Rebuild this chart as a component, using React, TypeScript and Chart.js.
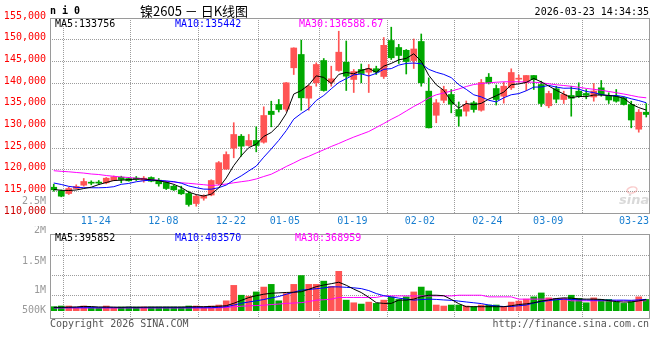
import { useEffect, useRef } from "react";
import { Chart, registerables } from "chart.js";

Chart.register(...registerables);

// ---------------- data ----------------
const dates = [
  "11-20","11-21","11-24","11-25","11-26","11-27","11-28","12-01","12-02","12-03",
  "12-04","12-05","12-08","12-09","12-10","12-11","12-12","12-15","12-16","12-17",
  "12-18","12-19","12-22","12-23","12-24","12-25","12-26","12-29","12-30","12-31",
  "01-05","01-06","01-07","01-08","01-09","01-12","01-13","01-14","01-15","01-16",
  "01-19","01-20","01-21","01-22","01-23","01-26","01-27","01-28","01-29","01-30",
  "02-02","02-03","02-04","02-05","02-06","02-09","02-10","02-11","02-12","02-13",
  "02-24","02-25","02-26","02-27","03-02","03-03","03-04","03-05","03-06","03-09",
  "03-10","03-11","03-12","03-13","03-16","03-17","03-18","03-19","03-20","03-23",
];

const opens = [
  115950,115120,114500,115650,116420,117040,117040,116970,117500,118260,
  117960,118080,117570,118190,117570,117040,116190,115350,114500,112190,
  113420,114150,116740,120150,124950,127720,125580,126730,126340,133490,
  135040,133950,143510,146580,136490,140050,145190,140190,142890,144800,
  140810,143120,142490,143300,141500,149810,148190,147550,145190,149580,
  138120,132550,136010,137350,133880,133490,135430,133720,141340,138730,
  136950,138890,140880,140120,141730,139650,134740,138660,136190,137120,
  138110,137580,136770,138890,136950,136890,136580,135040,129340,133260,
];
const highs = [
  116650,115310,115950,116510,117960,117430,117500,118190,118540,118490,
  118190,118420,118420,118350,117960,117270,116460,116190,115030,114200,
  114200,117660,121880,124120,130840,128120,128120,129890,134510,135800,
  136190,140120,148120,149880,139490,144660,145650,143880,151950,149690,
  143120,144380,144270,143880,150500,152880,148930,147730,150150,151310,
  141200,136190,139260,138500,135620,135850,135800,140810,142190,139540,
  140180,143280,141850,141730,141730,140420,138110,139260,138110,139260,
  140050,138500,139880,140580,137740,138500,136770,135800,133880,135270,
];
const lows = [
  115030,113740,114270,115580,116190,116510,116580,116740,117430,116970,
  117340,117500,117110,117200,116190,115420,115190,114270,111570,111570,
  112950,113970,116510,120040,122740,123110,125420,124120,126110,129890,
  133310,133490,141960,133720,133720,139260,138110,139260,142720,138270,
  137810,140050,137810,141960,141040,145420,144500,142080,143350,139260,
  129620,130820,135430,133120,130030,132380,133260,133490,139770,134920,
  135350,138500,140120,138270,138500,134580,134280,135430,135270,132340,
  136650,136350,135800,136950,135270,135570,134920,129660,128650,132150,
];
const closes = [
  115350,113880,115650,116120,117270,116880,116900,118030,118350,117730,
  117430,117730,118030,117340,116740,115650,115350,114430,111960,113880,
  113970,117500,121610,123500,128120,125420,126730,125580,132500,132730,
  133880,140050,148080,136580,139260,144270,138270,140970,147110,141570,
  142650,142190,143350,142540,148700,145820,146350,144960,147850,140050,
  129660,135430,138500,135110,132340,135040,133880,140120,140050,136190,
  139260,142420,141040,141730,140810,135270,137580,136260,137350,136470,
  136950,137160,138150,137350,136080,135800,135040,131460,133260,132730,
];

const ma5 = [
  115420,115240,115190,115310,115650,115960,116560,117040,117490,117580,
  117690,117850,117850,117650,117450,117100,116620,115900,114830,114250,
  113920,114350,115780,118090,120940,123230,125080,125870,127670,128590,
  130280,132950,137450,138260,139570,141650,141290,139870,141980,142440,
  142110,142900,143370,142460,143890,144520,145350,145670,146740,145010,
  141770,139590,138300,135750,134210,135280,134970,135300,136290,137060,
  137900,139610,139790,140130,141050,140250,139290,138330,137450,136590,
  136920,136840,137220,137220,137140,136910,136480,135150,134330,133756,
];
const ma10 = [
  116920,116580,116150,115920,115840,115820,115820,115880,116070,116620,
  116820,117210,117450,117570,117520,117390,117240,116880,116240,115850,
  115510,115490,115840,116460,117600,118570,119710,120830,122880,124770,
  126760,129010,131660,132970,134080,135970,137120,138660,140120,141000,
  141880,142100,141620,142220,143160,143320,144130,144520,144600,144450,
  143150,142470,141990,141240,139610,138530,137280,136800,136020,135630,
  136590,137290,137550,138210,139050,139080,139450,139060,138790,138820,
  138590,138060,137770,137340,137060,137120,136860,136360,135950,135442,
];
const ma30 = [
  119760,119620,119510,119350,119210,119000,118880,118650,118470,118310,
  118190,118010,117850,117680,117550,117340,117150,116970,116850,116690,
  116530,116350,116460,116690,116970,117220,117450,117850,118420,118950,
  119810,120730,121540,122420,123080,123850,124580,125350,126040,126800,
  127520,128160,128810,129730,130650,131620,132500,133540,134580,135500,
  136540,137280,137690,138150,138620,139190,139650,139880,140050,140180,
  140280,140280,140280,140230,140180,140050,139820,139590,139420,139240,
  139010,138750,138550,138320,138040,137760,137460,137120,136770,136588.67,
];

const volumes = [
  220000,237000,237000,205000,237000,205000,180000,237000,195000,212000,
  212000,212000,212000,212000,212000,212000,212000,212000,237000,237000,
  212000,237000,262000,367000,753000,507000,483000,589000,711000,778000,
  367000,549000,778000,999000,778000,778000,859000,729000,1105000,384000,
  318000,286000,335000,303000,384000,466000,402000,466000,589000,711000,
  613000,262000,237000,262000,262000,237000,220000,262000,262000,262000,
  220000,335000,360000,409000,466000,564000,441000,426000,426000,507000,
  426000,318000,441000,402000,402000,343000,303000,343000,466000,402000,
];
const volMa5 = [
  205000,205000,210000,215000,227000,224000,213000,213000,211000,206000,
  212000,207000,211000,211000,211000,211000,211000,211000,216000,221000,
  221000,226000,231000,245000,305000,377000,448000,495000,532000,557000,
  566000,576000,581000,593000,655000,721000,763000,795000,832000,756000,
  660000,574000,456000,321000,303000,303000,384000,384000,409000,470000,
  507000,507000,495000,402000,296000,220000,220000,220000,220000,220000,
  220000,244000,274000,291000,318000,360000,389000,424000,441000,434000,
  414000,409000,409000,402000,372000,348000,335000,340000,365000,395852,
];
const volMa10 = [
  195000,195000,195000,195000,195000,195000,195000,195000,195000,195000,
  195000,195000,195000,195000,195000,195000,195000,195000,195000,195000,
  195000,195000,205000,220000,259000,306000,338000,367000,400000,439000,
  475000,532000,581000,635000,650000,670000,689000,716000,716000,704000,
  692000,672000,623000,549000,495000,466000,434000,409000,384000,397000,
  409000,402000,389000,380000,360000,338000,318000,298000,262000,237000,
  225000,225000,244000,262000,311000,348000,372000,392000,409000,402000,
  394000,389000,384000,384000,384000,384000,384000,380000,390000,403570,
];
const volMa30 = [
  190000,190000,190000,190000,190000,190000,190000,190000,190000,190000,
  190000,190000,190000,190000,190000,190000,190000,190000,190000,190000,
  190000,190000,190000,200000,220000,232000,242000,249000,257000,274000,
  286000,303000,311000,321000,348000,384000,394000,409000,451000,451000,
  451000,451000,451000,451000,490000,490000,490000,490000,490000,490000,
  490000,490000,490000,490000,507000,507000,507000,507000,466000,466000,
  466000,466000,409000,409000,409000,409000,409000,409000,409000,367000,
  367000,367000,367000,367000,367000,367000,367000,367000,367000,368959,
];

const priceTicks = [110000,115000,120000,125000,130000,135000,140000,145000,150000,155000];
const dateTicks = ["11-24","12-08","12-22","01-05","01-19","02-02","02-24","03-09","03-23"];
const volTickValues = [500000, 1000000, 1500000, 2000000];
const volTickLabels = ["500K", "1M", "1.5M", "2M"];

// ---------------- style ----------------
const MONO = "'DejaVu Sans Mono', 'Liberation Mono', monospace";
const UP = "#ff5454";
const DOWN = "#00a800";
const FRAME = "#9a9a9a";
const GRID = "#9c9c9c";
const AXIS_RED = "#ff0000";
const DATE_BLUE = "#1a7fd0";

const gridIdx = dateTicks.map((d) => dates.indexOf(d));
const candleColors = closes.map((c, i) => (c >= opens[i] ? UP : DOWN));

function drawText(
  ctx: CanvasRenderingContext2D,
  text: string,
  x: number,
  y: number,
  color: string,
  font: string,
  align: CanvasTextAlign = "left"
) {
  ctx.save();
  ctx.font = font;
  ctx.fillStyle = color;
  ctx.textAlign = align;
  ctx.textBaseline = "middle";
  ctx.fillText(text, x, y);
  ctx.restore();
}

const xgScale = {
  type: "linear" as const,
  axis: "x" as const,
  position: "bottom" as const,
  min: 0,
  max: dates.length - 1,
  afterBuildTicks: (s: any) => {
    s.ticks = gridIdx.map((v) => ({ value: v }));
  },
  afterFit: (s: any) => {
    s.height = 0;
  },
  ticks: { display: false },
  grid: { color: GRID, lineWidth: 1, drawTicks: false },
  border: { display: false, dash: [1, 1] },
};

const mainDecor = {
  id: "mainDecor",
  afterDraw(chart: any) {
    const { ctx, chartArea: a } = chart;
    const xg = chart.scales.xg;
    ctx.save();
    ctx.strokeStyle = FRAME;
    ctx.lineWidth = 1;
    ctx.strokeRect(a.left + 0.5, a.top + 0.5, a.right - a.left - 1, a.bottom - a.top);
    ctx.restore();

    drawText(ctx, "n i 0", 50, 11, "#000", `bold 10px ${MONO}`);
    drawText(ctx, "镍2605 － 日K线图", 140, 11, "#000", "13px 'Noto Sans CJK SC'");
    drawText(ctx, "2026-03-23 14:34:35", 649, 12, "#000", `10px ${MONO}`, "right");

    drawText(ctx, `MA5:${ma5[ma5.length - 1]}`, 55, 24, "#000", `10px ${MONO}`);
    drawText(ctx, `MA10:${ma10[ma10.length - 1]}`, 175, 24, "#0000ff", `10px ${MONO}`);
    drawText(ctx, `MA30:${ma30[ma30.length - 1]}`, 299, 24, "#ff00ff", `10px ${MONO}`);

    drawText(ctx, "2.5M", 46, 201, "#999", `10px ${MONO}`, "right");

    dateTicks.forEach((lab, k) => {
      const x = xg.getPixelForValue(gridIdx[k]);
      const last = k === dateTicks.length - 1;
      drawText(ctx, lab, last ? a.right - 1 : x - 1, 221.5, DATE_BLUE, `10px ${MONO}`, last ? "right" : "center");
    });

    // faint sina watermark
    ctx.save();
    ctx.globalAlpha = 0.4;
    drawText(ctx, "sina", 619, 201, "#a0a0a0", `italic bold 13px 'DejaVu Sans'`);
    ctx.beginPath();
    ctx.ellipse(632, 190, 5, 3, -0.2, 0, Math.PI * 2);
    ctx.strokeStyle = "#f08080";
    ctx.lineWidth = 1.5;
    ctx.stroke();
    ctx.restore();
  },
};

const volDecor = {
  id: "volDecor",
  afterDraw(chart: any) {
    const { ctx, chartArea: a } = chart;
    const y = chart.scales.y;
    ctx.save();
    ctx.strokeStyle = FRAME;
    ctx.lineWidth = 1;
    ctx.strokeRect(a.left + 0.5, a.top + 0.5, a.right - a.left - 1, a.bottom - a.top);
    ctx.restore();

    drawText(ctx, `MA5:${volMa5[volMa5.length - 1]}`, 55, 12, "#000", `10px ${MONO}`);
    drawText(ctx, `MA10:${volMa10[volMa10.length - 1]}`, 175, 12, "#0000ff", `10px ${MONO}`);
    drawText(ctx, `MA30:${volMa30[volMa30.length - 1]}`, 295, 12, "#ff00ff", `10px ${MONO}`);

    const offs = [14.5, 15.2, 5.5, -4.8];
    volTickValues.forEach((v, k) => {
      drawText(ctx, volTickLabels[k], 46, y.getPixelForValue(v) + offs[k], "#999", `10px ${MONO}`, "right");
    });

    drawText(ctx, "Copyright 2026 SINA.COM", 50, 98, "#555", `10px ${MONO}`);
    drawText(ctx, "http://finance.sina.com.cn", 649, 98, "#555", `10px ${MONO}`, "right");
  },
};

export default function App() {
  const mainRef = useRef<HTMLCanvasElement>(null);
  const volRef = useRef<HTMLCanvasElement>(null);

  useEffect(() => {
    document.body.style.margin = "0";
    const lineDs = (data: number[], color: string, order: number) => ({
      type: "line" as const,
      data,
      borderColor: color,
      borderWidth: 1,
      pointRadius: 0,
      tension: 0,
      fill: false,
      order,
    });

    const main = new Chart(mainRef.current!, {
      type: "bar",
      data: {
        labels: dates,
        datasets: [
          lineDs(ma5, "#000000", -3) as any,
          lineDs(ma10, "#0000ff", -2) as any,
          lineDs(ma30, "#ff00ff", -1) as any,
          {
            type: "bar",
            data: opens.map((o, i) => [o, closes[i]]),
            backgroundColor: candleColors,
            barThickness: 6,
            grouped: false,
            minBarLength: 1,
            order: 1,
          },
          {
            type: "bar",
            data: lows.map((l, i) => [l, highs[i]]),
            backgroundColor: candleColors,
            barThickness: 1,
            grouped: false,
            order: 2,
          },
        ],
      },
      options: {
        animation: false,
        responsive: false,
        maintainAspectRatio: false,
        events: [],
        layout: { padding: { left: 0, right: 10, top: 18, bottom: 13 } },
        plugins: { legend: { display: false }, tooltip: { enabled: false } },
        scales: {
          x: { type: "category", offset: true, display: false, grid: { display: false } },
          xg: xgScale as any,
          y: {
            type: "linear",
            position: "left",
            min: priceTicks[0],
            max: priceTicks[priceTicks.length - 1],
            afterBuildTicks: (s: any) => {
              s.ticks = priceTicks.map((v) => ({ value: v }));
            },
            afterFit: (s: any) => {
              s.width = 50;
            },
            ticks: {
              color: (c: any) => (c.tick && c.tick.value === priceTicks[0] ? "#cc0000" : AXIS_RED),
              font: { family: MONO, size: 10 },
              padding: 4,
              labelOffset: -2,
            },
            grid: { color: GRID, lineWidth: 1, drawTicks: false },
            border: { display: false, dash: [1, 1] },
          },
        },
      },
      plugins: [mainDecor],
    });

    const vol = new Chart(volRef.current!, {
      type: "bar",
      data: {
        labels: dates,
        datasets: [
          lineDs(volMa5, "#000000", -3) as any,
          lineDs(volMa10, "#0000ff", -2) as any,
          lineDs(volMa30, "#ff00ff", -1) as any,
          {
            type: "bar",
            data: volumes.map((v) => [120000, v]),
            backgroundColor: candleColors,
            barThickness: 6,
            grouped: false,
            order: 1,
          },
        ],
      },
      options: {
        animation: false,
        responsive: false,
        maintainAspectRatio: false,
        events: [],
        layout: { padding: { left: 0, right: 10, top: 8, bottom: 42 } },
        plugins: { legend: { display: false }, tooltip: { enabled: false } },
        scales: {
          x: { type: "category", offset: true, display: false, grid: { display: false } },
          xg: xgScale as any,
          y: {
            type: "linear",
            position: "left",
            min: -62500,
            max: 2037500,
            afterBuildTicks: (s: any) => {
              s.ticks = volTickValues.slice(0, 3).map((v) => ({ value: v }));
            },
            afterFit: (s: any) => {
              s.width = 50;
            },
            ticks: { display: false },
            grid: { color: GRID, lineWidth: 1, drawTicks: false },
            border: { display: false, dash: [1, 1] },
          },
        },
      },
      plugins: [volDecor],
    });

    return () => {
      main.destroy();
      vol.destroy();
    };
  }, []);

  return (
    <div style={{ position: "relative", width: 660, height: 360, background: "#fff" }}>
      <canvas
        ref={mainRef}
        width={660}
        height={226}
        style={{ position: "absolute", left: 0, top: 0, width: 660, height: 226 }}
      />
      <canvas
        ref={volRef}
        width={660}
        height={134}
        style={{ position: "absolute", left: 0, top: 226, width: 660, height: 134 }}
      />
    </div>
  );
}
